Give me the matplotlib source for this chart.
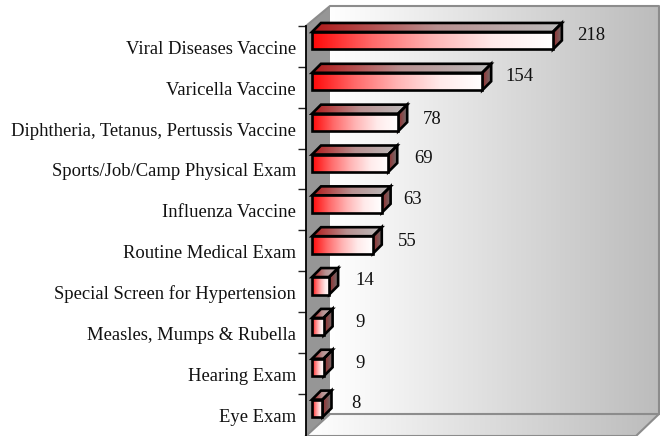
import matplotlib
matplotlib.use("Agg")
import matplotlib.pyplot as plt
import numpy as np
from matplotlib.colors import LinearSegmentedColormap
from matplotlib.patches import Polygon

plt.rcParams['font.family'] = ['Liberation Serif', 'DejaVu Serif']

categories = ["Viral Diseases Vaccine", "Varicella Vaccine",
              "Diphtheria, Tetanus, Pertussis Vaccine",
              "Sports/Job/Camp Physical Exam", "Influenza Vaccine",
              "Routine Medical Exam", "Special Screen for Hypertension",
              "Measles, Mumps & Rubella", "Hearing Exam", "Eye Exam"]
values = [218, 154, 78, 69, 63, 55, 14, 9, 9, 8]

W, H = 660, 436
PX_PER_UNIT = 1.105
DEPTH = 9          # px of the 3d offset
BAND = 40.85
TOP = 26
AX_LEFT = 306
BAR_LEFT = 312
BAR_H = 17.5

grad = np.linspace(0, 1, 256).reshape(1, -1)
wall_cm = LinearSegmentedColormap.from_list("wall", ["#ffffff", "#bcbcbc"])
front_cm = LinearSegmentedColormap.from_list("front", ["#ff0808", "#ff6a6a", "#ffb4b4", "#ffeaea", "#ffffff"])
top_cm = LinearSegmentedColormap.from_list("top", ["#b01818", "#b89090", "#bcbcbc"])
side_cm = LinearSegmentedColormap.from_list("side", ["#9a2a2a", "#707070"])


def grad_poly(ax, pts, cmap, z):
    pts = np.array(pts)
    im = ax.imshow(grad, cmap=cmap, aspect="auto", zorder=z,
                   extent=(pts[:, 0].min(), pts[:, 0].max(), pts[:, 1].max(), pts[:, 1].min()))
    clip = Polygon(pts, closed=True, transform=ax.transData, fc="none", ec="none", clip_on=False)
    ax.add_patch(clip)
    im.set_clip_path(clip)
    im.set_clip_box(ax.figure.bbox)  # the deepest bar pokes out above the axes
    ax.add_patch(Polygon(pts, closed=True, fc="none", ec="black", lw=1.9,
                         joinstyle="miter", zorder=z + 0.5, clip_on=False))


fig = plt.figure(figsize=(W / 100, H / 100), dpi=100, facecolor="white")

# walls, in pixels
bg = fig.add_axes([0, 0, 1, 1])
bg.set_xlim(0, W)
bg.set_ylim(H, 0)
bg.axis("off")
bg.imshow(grad, cmap=wall_cm, aspect="auto", extent=(330, 659, 414, 6), zorder=1)
floor = Polygon([(306, 436), (330, 414), (659, 414), (636, 436)], closed=True,
                transform=bg.transData, fc="none", ec="none")
bg.add_patch(floor)
im = bg.imshow(grad, cmap=wall_cm, aspect="auto", extent=(306, 659, 436, 414), zorder=1)
im.set_clip_path(floor)
bg.set_xlim(0, W)
bg.set_ylim(H, 0)
bg.add_patch(Polygon([(306, 26), (330, 6), (330, 414), (306, 436)], closed=True,
                     fc="#969696", ec="none", zorder=2))
bg.plot([306, 330, 659, 659], [26, 6, 6, 414], color="#8c8c8c", lw=1.5, zorder=3)
bg.plot([306, 330, 659, 636, 306], [436, 414, 414, 436, 436], color="#8c8c8c", lw=1.5, zorder=3)

# chart axes: value and category scales
ax = fig.add_axes([AX_LEFT / W, 0, (W - AX_LEFT) / W, (H - TOP) / H])
ax.patch.set_alpha(0)
for s in ["top", "right", "bottom"]:
    ax.spines[s].set_visible(False)
ax.spines["left"].set_linewidth(1.3)
ax.set_xticks([])
ax.set_yticks(np.arange(len(values)))
ax.set_yticklabels([])
ax.tick_params(axis="y", length=6, width=1, color="#222222")

dx = DEPTH / PX_PER_UNIT
dy = DEPTH / BAND
h = BAR_H / BAND
label_gap = [24, 23, 25, 26, 22, 25, 26, 32, 32, 29]
label_shift = [-5, -5, -3, -5, -5, -3, -5, -4, -4, -5]

for i, v in enumerate(values):
    y0 = i + 0.36 - h / 2
    y1 = y0 + h
    x1 = v if v > 14 else v + 1.5
    grad_poly(ax, [(0, y0), (dx, y0 - dy), (x1 + dx, y0 - dy), (x1, y0)], top_cm, 5)
    grad_poly(ax, [(x1, y0), (x1 + dx, y0 - dy), (x1 + dx, y1 - dy), (x1, y1)], side_cm, 5)
    grad_poly(ax, [(0, y0), (x1, y0), (x1, y1), (0, y1)], front_cm, 6)
    ax.text(x1 + label_gap[i] / PX_PER_UNIT, i + 0.36 + label_shift[i] / BAND, str(v),
            fontsize=13.5, color="#111111", ha="left", va="center", zorder=8, clip_on=False)
    ax.text((296 - BAR_LEFT) / PX_PER_UNIT, i + 0.5 + 3 / BAND, categories[i], fontsize=13.4,
            color="#111111", ha="right", va="center", zorder=8, clip_on=False)

ax.set_xlim((AX_LEFT - BAR_LEFT) / PX_PER_UNIT, (W - BAR_LEFT) / PX_PER_UNIT)
ax.set_ylim((H - TOP) / BAND, 0)

fig.savefig("out.png", dpi=100)
